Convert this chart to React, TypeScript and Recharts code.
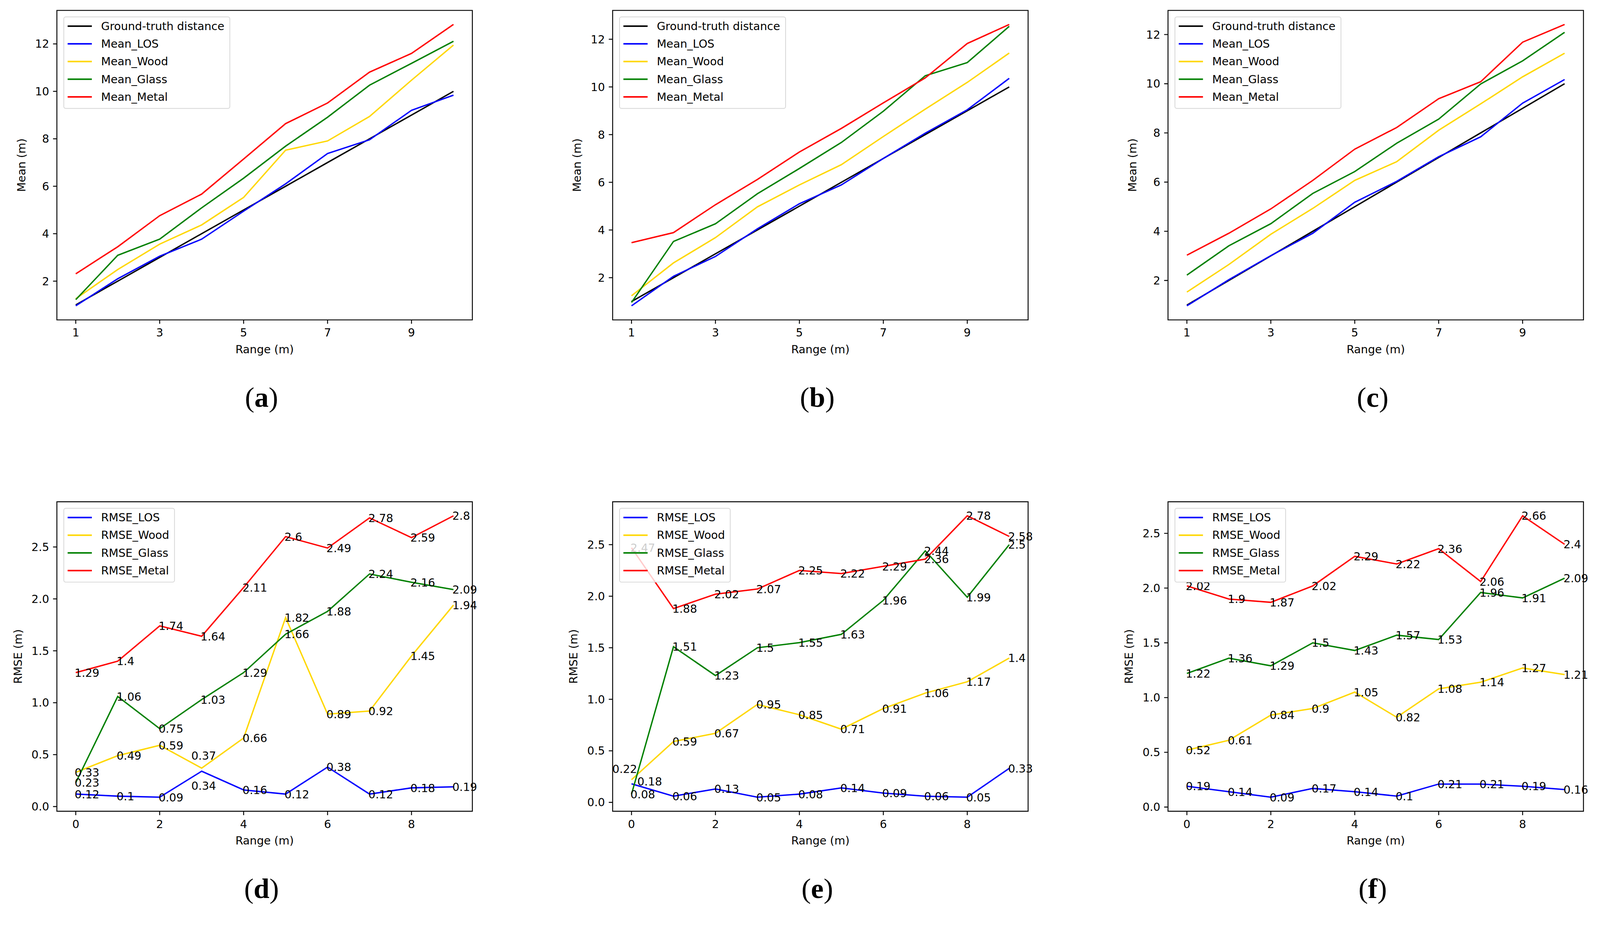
import React from "react";
import {
  LineChart,
  Line,
  XAxis,
  YAxis,
  Legend,
  LabelList,
  ReferenceArea,
} from "recharts";

// ---- categories ----
const rangeMean = [1, 2, 3, 4, 5, 6, 7, 8, 9, 10];
const rangeRmse = [0, 1, 2, 3, 4, 5, 6, 7, 8, 9];

// ---- ticks ----
const meanXTicks = [1, 3, 5, 7, 9];
const meanYTicks = [2, 4, 6, 8, 10, 12];
const rmseXTicks = [0, 2, 4, 6, 8];
const rmseYTicks = [0, 0.5, 1, 1.5, 2, 2.5];

// ---- mean values (a) ----
const groundTruth = [1, 2, 3, 4, 5, 6, 7, 8, 9, 10];
const meanLosA = [0.96, 2.1, 3.05, 3.77, 4.95, 6.1, 7.38, 7.96, 9.2, 9.84];
const meanWoodA = [1.26, 2.49, 3.56, 4.37, 5.53, 7.52, 7.91, 8.94, 10.47, 11.95];
const meanGlassA = [1.22, 3.09, 3.77, 5.09, 6.34, 7.69, 8.91, 10.26, 11.18, 12.11];
const meanMetalA = [2.31, 3.45, 4.76, 5.67, 7.15, 8.64, 9.51, 10.81, 11.6, 12.82];

// ---- mean values (b) ----
const meanLosB = [0.82, 2.06, 2.89, 4.05, 5.1, 5.89, 7.0, 8.06, 9.04, 10.36];
const meanWoodB = [1.24, 2.62, 3.68, 4.97, 5.89, 6.74, 7.92, 9.07, 10.19, 11.42];
const meanGlassB = [0.96, 3.52, 4.26, 5.52, 6.58, 7.67, 8.98, 10.47, 11.02, 12.54];
const meanMetalB = [3.47, 3.89, 5.06, 6.12, 7.27, 8.26, 9.33, 10.38, 11.82, 12.62];

// ---- mean values (c) ----
const meanLosC = [0.97, 2.03, 3.01, 3.92, 5.18, 6.03, 7.03, 7.84, 9.21, 10.17];
const meanWoodC = [1.53, 2.65, 3.88, 4.93, 6.07, 6.83, 8.11, 9.18, 10.28, 11.24];
const meanGlassC = [2.22, 3.41, 4.31, 5.54, 6.43, 7.58, 8.56, 9.99, 10.93, 12.09];
const meanMetalC = [3.03, 3.92, 4.91, 6.07, 7.34, 8.22, 9.39, 10.08, 11.69, 12.41];

// ---- RMSE values (d) ----
const rmseLosD = [0.12, 0.1, 0.09, 0.34, 0.16, 0.12, 0.38, 0.12, 0.18, 0.19];
const rmseWoodD = [0.33, 0.49, 0.59, 0.37, 0.66, 1.82, 0.89, 0.92, 1.45, 1.94];
const rmseGlassD = [0.23, 1.06, 0.75, 1.03, 1.29, 1.66, 1.88, 2.24, 2.16, 2.09];
const rmseMetalD = [1.29, 1.4, 1.74, 1.64, 2.11, 2.6, 2.49, 2.78, 2.59, 2.8];

// ---- RMSE values (e) ----
const rmseLosE = [0.18, 0.06, 0.13, 0.05, 0.08, 0.14, 0.09, 0.06, 0.05, 0.33];
const rmseWoodE = [0.22, 0.59, 0.67, 0.95, 0.85, 0.71, 0.91, 1.06, 1.17, 1.4];
const rmseGlassE = [0.08, 1.51, 1.23, 1.5, 1.55, 1.63, 1.96, 2.44, 1.99, 2.5];
const rmseMetalE = [2.47, 1.88, 2.02, 2.07, 2.25, 2.22, 2.29, 2.36, 2.78, 2.58];

// ---- RMSE values (f) ----
const rmseLosF = [0.19, 0.14, 0.09, 0.17, 0.14, 0.1, 0.21, 0.21, 0.19, 0.16];
const rmseWoodF = [0.52, 0.61, 0.84, 0.9, 1.05, 0.82, 1.08, 1.14, 1.27, 1.21];
const rmseGlassF = [1.22, 1.36, 1.29, 1.5, 1.43, 1.57, 1.53, 1.96, 1.91, 2.09];
const rmseMetalF = [2.02, 1.9, 1.87, 2.02, 2.29, 2.22, 2.36, 2.06, 2.66, 2.4];

const FONT = "'DejaVu Sans', sans-serif";
const FS = 29;
const PAGE_W = 4163;
const PAGE_H = 2385;
const YW = 148; // y axis width
const MT = 27; // top margin
const MR = 70;
const PW = 1081; // plot width
const PH = 805; // plot height
const XH = 110; // x axis height

const COLORS = {
  gt: "#000000",
  los: "#0000ff",
  wood: "#ffd700",
  glass: "#008000",
  metal: "#ff0000",
};

type Series = { key: string; name: string; color: string; values: number[] };
type Nudges = Record<string, [number, number]>;

const meanSeries = (los: number[], wood: number[], glass: number[], metal: number[]): Series[] => [
  { key: "gt", name: "Ground-truth distance", color: COLORS.gt, values: groundTruth },
  { key: "los", name: "Mean_LOS", color: COLORS.los, values: los },
  { key: "wood", name: "Mean_Wood", color: COLORS.wood, values: wood },
  { key: "glass", name: "Mean_Glass", color: COLORS.glass, values: glass },
  { key: "metal", name: "Mean_Metal", color: COLORS.metal, values: metal },
];

const rmseSeries = (los: number[], wood: number[], glass: number[], metal: number[]): Series[] => [
  { key: "los", name: "RMSE_LOS", color: COLORS.los, values: los },
  { key: "wood", name: "RMSE_Wood", color: COLORS.wood, values: wood },
  { key: "glass", name: "RMSE_Glass", color: COLORS.glass, values: glass },
  { key: "metal", name: "RMSE_Metal", color: COLORS.metal, values: metal },
];

// hand-placed value labels, as in the original figure
const nudgesD: Nudges = {
  "wood-3": [-24, -33],
  "los-3": [-24, 38],
};
const nudgesE: Nudges = {
  "wood-0": [-47, -28],
  "los-0": [18, -6],
};

// matplotlib-style 5% auto margins
const padded = (vals: number[]): [number, number] => {
  const lo = Math.min(...vals);
  const hi = Math.max(...vals);
  const m = (hi - lo) * 0.05;
  return [lo - m, hi + m];
};

const DataLabel = (props: any) => {
  const { x, y, value, nudge } = props;
  const [nx, ny] = nudge || [0, 0];
  return (
    <text
      x={x - 3 + nx}
      y={y + 1 + ny}
      dominantBaseline="central"
      fontSize={FS}
      fontFamily={FONT}
      fill="#000"
    >
      {value}
    </text>
  );
};

const XTitle = (props: any) => {
  const { viewBox } = props;
  return (
    <text
      x={viewBox.x + viewBox.width / 2}
      y={viewBox.y + 77}
      textAnchor="middle"
      dominantBaseline="central"
      fontSize={FS}
      fontFamily={FONT}
      fill="#000"
    >
      Range (m)
    </text>
  );
};

const YTitle = (props: any) => {
  const { viewBox, text, cx } = props;
  const cy = viewBox.y + viewBox.height / 2;
  return (
    <text
      x={cx}
      y={cy}
      transform={`rotate(-90, ${cx}, ${cy})`}
      textAnchor="middle"
      dominantBaseline="central"
      fontSize={FS}
      fontFamily={FONT}
      fill="#000"
    >
      {text}
    </text>
  );
};

const LegendBox = ({ series }: { series: Series[] }) => (
  <div
    style={{
      background: "rgba(255,255,255,0.8)",
      border: "2px solid #d6d6d6",
      borderRadius: 6,
      padding: "0 13px 6px 9px",
      fontFamily: FONT,
      fontSize: FS,
      color: "#000",
      whiteSpace: "nowrap",
    }}
  >
    {series.map((s) => (
      <div key={s.key} style={{ display: "flex", alignItems: "center", height: 46 }}>
        <div style={{ width: 63, height: 4, background: s.color, marginRight: 24 }} />
        <span>{s.name}</span>
      </div>
    ))}
  </div>
);

type PanelProps = {
  left: number;
  top: number;
  xs: number[];
  series: Series[];
  xTicks: number[];
  yTicks: number[];
  yLabel: string;
  yLabelX: number;
  yFormat?: (v: number) => string;
  showValues?: boolean;
  nudges?: Nudges;
  caption: string;
};

function Panel({
  left,
  top,
  xs,
  series,
  xTicks,
  yTicks,
  yLabel,
  yLabelX,
  yFormat,
  showValues,
  nudges,
  caption,
}: PanelProps) {
  const rows = xs.map((r, i) => {
    const row: any = { range: r };
    series.forEach((s) => (row[s.key] = s.values[i]));
    return row;
  });
  const xDomain = padded(xs);
  const yDomain = padded(series.flatMap((s) => s.values));
  const tick = { fontSize: FS, fill: "#000", fontFamily: FONT };

  return (
    <div style={{ position: "absolute", left: left - YW, top: top - MT }}>
      <LineChart
        width={YW + PW + MR}
        height={MT + PH + XH}
        data={rows}
        margin={{ top: MT, right: MR, bottom: 0, left: 0 }}
      >
        <XAxis
          type="number"
          dataKey="range"
          domain={xDomain}
          ticks={xTicks}
          interval={0}
          allowDataOverflow
          axisLine={false}
          tickLine={{ stroke: "#000", strokeWidth: 2.4 }}
          tickSize={10}
          tickMargin={13}
          height={XH}
          tick={tick}
          label={<XTitle />}
        />
        <YAxis
          type="number"
          domain={yDomain}
          ticks={yTicks}
          interval={0}
          allowDataOverflow
          axisLine={false}
          tickLine={{ stroke: "#000", strokeWidth: 2.4 }}
          tickSize={10}
          tickMargin={10}
          width={YW}
          tick={tick}
          tickFormatter={yFormat}
          label={<YTitle text={yLabel} cx={yLabelX} />}
        />
        <ReferenceArea
          x1={xDomain[0]}
          x2={xDomain[1]}
          y1={yDomain[0]}
          y2={yDomain[1]}
          fill="none"
          stroke="#000"
          strokeWidth={2.4}
          ifOverflow="visible"
        />
        {series.map((s) => (
          <Line
            key={s.key}
            type="linear"
            dataKey={s.key}
            name={s.name}
            stroke={s.color}
            strokeWidth={3.6}
            dot={false}
            activeDot={false}
            isAnimationActive={false}
          >
            {showValues && (
              <LabelList
                dataKey={s.key}
                content={(p: any) => (
                  <DataLabel {...p} nudge={nudges?.[`${s.key}-${p.index}`]} />
                )}
              />
            )}
          </Line>
        ))}
        <Legend
          layout="vertical"
          align="center"
          verticalAlign="middle"
          wrapperStyle={{ left: YW + 17, top: MT + 16, width: "auto", height: "auto" }}
          content={() => <LegendBox series={series} />}
        />
      </LineChart>
      <div
        style={{
          position: "absolute",
          left: YW + PW / 2 - 8,
          top: 1033,
          transform: "translate(-50%, -50%)",
          fontFamily: "'Liberation Serif', 'Times New Roman', serif",
          fontSize: 74,
          lineHeight: 1,
          color: "#000",
          whiteSpace: "nowrap",
        }}
      >
        (<b>{caption}</b>)
      </div>
    </div>
  );
}

const fmt1 = (v: number) => v.toFixed(1);

export default function App() {
  const topY = 27;
  const botY = 1305;
  const cols = [148, 1594, 3039];
  // fit the fixed-size figure into whatever CSS viewport the page gets
  const vw = typeof window !== "undefined" ? window.innerWidth : PAGE_W;
  const vh = typeof window !== "undefined" ? window.innerHeight : PAGE_H;
  const scale = Math.min(vw / PAGE_W, vh / PAGE_H);
  return (
    <div
      style={{
        position: "absolute",
        left: 0,
        top: 0,
        width: PAGE_W,
        height: PAGE_H,
        background: "#fff",
        overflow: "hidden",
        transform: `scale(${scale})`,
        transformOrigin: "0 0",
      }}
    >
      <Panel
        left={cols[0]}
        top={topY}
        xs={rangeMean}
        series={meanSeries(meanLosA, meanWoodA, meanGlassA, meanMetalA)}
        xTicks={meanXTicks}
        yTicks={meanYTicks}
        yLabel="Mean (m)"
        yLabelX={56}
        caption="a"
      />
      <Panel
        left={cols[1]}
        top={topY}
        xs={rangeMean}
        series={meanSeries(meanLosB, meanWoodB, meanGlassB, meanMetalB)}
        xTicks={meanXTicks}
        yTicks={meanYTicks}
        yLabel="Mean (m)"
        yLabelX={56}
        caption="b"
      />
      <Panel
        left={cols[2]}
        top={topY}
        xs={rangeMean}
        series={meanSeries(meanLosC, meanWoodC, meanGlassC, meanMetalC)}
        xTicks={meanXTicks}
        yTicks={meanYTicks}
        yLabel="Mean (m)"
        yLabelX={56}
        caption="c"
      />
      <Panel
        left={cols[0]}
        top={botY}
        xs={rangeRmse}
        series={rmseSeries(rmseLosD, rmseWoodD, rmseGlassD, rmseMetalD)}
        xTicks={rmseXTicks}
        yTicks={rmseYTicks}
        yFormat={fmt1}
        yLabel="RMSE (m)"
        yLabelX={47}
        showValues
        nudges={nudgesD}
        caption="d"
      />
      <Panel
        left={cols[1]}
        top={botY}
        xs={rangeRmse}
        series={rmseSeries(rmseLosE, rmseWoodE, rmseGlassE, rmseMetalE)}
        xTicks={rmseXTicks}
        yTicks={rmseYTicks}
        yFormat={fmt1}
        yLabel="RMSE (m)"
        yLabelX={47}
        showValues
        nudges={nudgesE}
        caption="e"
      />
      <Panel
        left={cols[2]}
        top={botY}
        xs={rangeRmse}
        series={rmseSeries(rmseLosF, rmseWoodF, rmseGlassF, rmseMetalF)}
        xTicks={rmseXTicks}
        yTicks={rmseYTicks}
        yFormat={fmt1}
        yLabel="RMSE (m)"
        yLabelX={47}
        showValues
        caption="f"
      />
    </div>
  );
}
